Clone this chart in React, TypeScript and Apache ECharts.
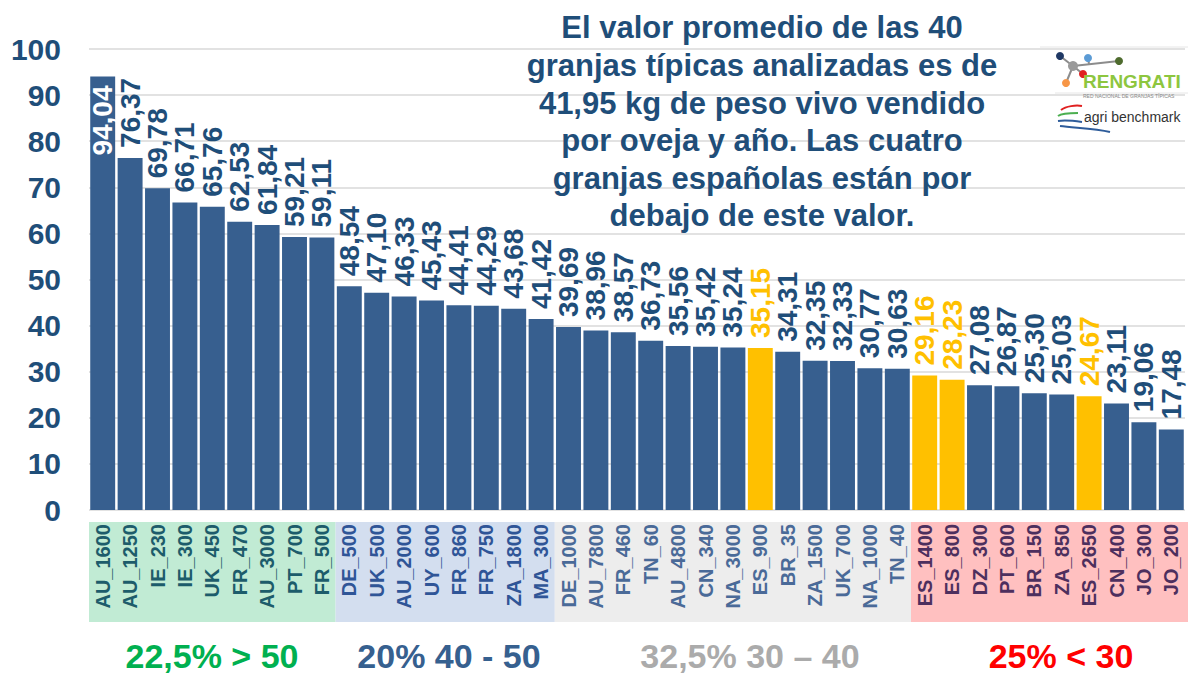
import React, { useEffect, useRef } from "react";
import * as echarts from "echarts";

const categories = ["AU_1600","AU_1250","IE_230","IE_300","UK_450","FR_470","AU_3000","PT_700","FR_500","DE_500","UK_500","AU_2000","UY_600","FR_860","FR_750","ZA_1800","MA_300","DE_1000","AU_7800","FR_460","TN_60","AU_4800","CN_340","NA_3000","ES_900","BR_35","ZA_1500","UK_700","NA_1000","TN_40","ES_1400","ES_800","DZ_300","PT_600","BR_150","ZA_850","ES_2650","CN_400","JO_300","JO_200"];
const values = [94.04,76.37,69.78,66.71,65.76,62.53,61.84,59.21,59.11,48.54,47.10,46.33,45.43,44.41,44.29,43.68,41.42,39.69,38.96,38.57,36.73,35.56,35.42,35.24,35.15,34.31,32.35,32.33,30.77,30.63,29.16,28.23,27.08,26.87,25.30,25.03,24.67,23.11,19.06,17.48];
const yTicks = { min: 0, max: 100, interval: 10 };
const bandSizes = [9, 8, 13, 10];
const bandLabels = ["22,5% > 50", "20% 40 - 50", "32,5% 30 – 40", "25% < 30"];
const bandFill = ["#C1EBD4", "#D3DEEF", "#EDEDED", "#FFC0C0"];
const bandTextColor = ["#1D5C6B", "#2F5597", "#4A6A98", "#4D2F5E"];
const bandLabelColor = ["#00B050", "#36608F", "#ABABAB", "#FF0000"];
const bandLabelX = [212, 449, 750, 1061];
const titleLines = [
  "El valor promedio de las 40",
  "granjas típicas analizadas es de",
  "41,95 kg de peso vivo vendido",
  "por oveja y año. Las cuatro",
  "granjas españolas están por",
  "debajo de este valor.",
];

const FONT = "'Liberation Sans', Arial, sans-serif";
const DARK = "#1F4E79";
const BAR = "#375F8F";
const HIGHLIGHT = "#FFC000";
const W = 1188;

const fmt = (v: number) => v.toFixed(2).replace(".", ",");

function bandOf(i: number) {
  let acc = 0;
  for (let b = 0; b < bandSizes.length; b++) {
    acc += bandSizes[b];
    if (i < acc) return b;
  }
  return bandSizes.length - 1;
}

export default function App() {
  const ref = useRef<HTMLDivElement>(null);
  useEffect(() => {
    document.body.style.margin = "0";
    const chart = echarts.init(ref.current!, null, { renderer: "svg" });
    const data = values.map((v, i) => {
      const isES = categories[i].startsWith("ES_");
      const item: any = {
        value: v,
        itemStyle: { color: isES ? HIGHLIGHT : BAR },
        label: { color: isES ? HIGHLIGHT : DARK },
      };
      if (i === 0) {
        item.label = {
          position: "insideTop",
          align: "right",
          distance: 9,
          color: "#FFFFFF",
        };
      }
      return item;
    });
    const option: any = {
      animation: false,
      textStyle: { fontFamily: FONT },
      grid: { left: 89, right: 3, top: 49, bottom: 165, containLabel: false },
      xAxis: {
        type: "category",
        data: categories,
        axisLine: { show: false },
        axisTick: { show: false },
        axisLabel: {
          rotate: 90,
          interval: 0,
          margin: 14,
          fontSize: 20,
          fontWeight: "bold",
          fontFamily: FONT,
          color: (_v: any, idx: number) => bandTextColor[bandOf(idx)],
        },
      },
      yAxis: {
        type: "value",
        min: yTicks.min,
        max: yTicks.max,
        interval: yTicks.interval,
        axisLine: { show: false },
        axisTick: { show: false },
        axisLabel: {
          fontSize: 30,
          fontWeight: "bold",
          color: DARK,
          margin: 28,
          fontFamily: FONT,
        },
        splitLine: { lineStyle: { color: "#D9D9D9", width: 1.5 } },
      },
      series: [
        {
          type: "bar",
          data,
          barCategoryGap: "9%",
          label: {
            show: true,
            position: "top",
            rotate: 90,
            align: "left",
            verticalAlign: "middle",
            distance: 10,
            fontSize: 28,
            fontWeight: "bold",
            fontFamily: FONT,
            formatter: (p: any) => fmt(p.value),
          },
        },
      ],
    };
    chart.setOption(option);

    const c0 = chart.convertToPixel({ xAxisIndex: 0 }, 0) as number;
    const c1 = chart.convertToPixel({ xAxisIndex: 0 }, 1) as number;
    const bw = c1 - c0;
    const graphics: any[] = [];
    let start = 0;
    bandSizes.forEach((n, b) => {
      const left = c0 + (start - 0.5) * bw;
      const width = b === bandSizes.length - 1 ? W - left : n * bw;
      graphics.push({
        type: "rect",
        z: -1,
        shape: { x: left, y: 522, width, height: 100 },
        style: { fill: bandFill[b] },
        silent: true,
      });
      graphics.push({
        type: "text",
        style: {
          text: bandLabels[b],
          x: bandLabelX[b],
          y: 656,
          align: "center",
          verticalAlign: "middle",
          font: `bold 34px ${FONT}`,
          fill: bandLabelColor[b],
        },
      });
      start += n;
    });
    graphics.push({
      type: "text",
      style: {
        text: titleLines.join("\n"),
        x: 762,
        y: 9,
        align: "center",
        verticalAlign: "top",
        lineHeight: 37.6,
        font: `bold 31px ${FONT}`,
        fill: DARK,
      },
    });
    // logo
    const hub = [1073, 66];
    const nodes = [
      { p: [1060, 56], r: 4, c: "#1F3864" },
      { p: [1088, 58], r: 4, c: "#5B9BD5" },
      { p: [1119, 61], r: 4, c: "#4E6B2E" },
      { p: [1083, 74], r: 4, c: "#E02020" },
      { p: [1066, 83], r: 4, c: "#F79646" },
    ];
    graphics.push({ type: "line", shape: { x1: 1040, y1: 47, x2: 1188, y2: 47 }, style: { stroke: "#E6E6E6", lineWidth: 1 } });
    graphics.push({ type: "line", shape: { x1: 1055, y1: 93, x2: 1188, y2: 93 }, style: { stroke: "#E6E6E6", lineWidth: 1 } });
    [nodes[0], nodes[2], nodes[3], nodes[4]].forEach((n) => {
      graphics.push({ type: "line", shape: { x1: hub[0], y1: hub[1], x2: n.p[0], y2: n.p[1] }, style: { stroke: "#8C8C8C", lineWidth: 2 } });
    });
    graphics.push({ type: "line", shape: { x1: 1088, y1: 58, x2: 1089, y2: 64 }, style: { stroke: "#8C8C8C", lineWidth: 2 } });
    graphics.push({ type: "circle", shape: { cx: hub[0], cy: hub[1], r: 5 }, style: { fill: "#9A9A9A" } });
    nodes.forEach((n) => {
      graphics.push({ type: "circle", shape: { cx: n.p[0], cy: n.p[1], r: n.r }, style: { fill: n.c } });
    });
    graphics.push({
      type: "text",
      style: { text: "RENGRATI", x: 1083, y: 81, verticalAlign: "middle", font: `bold 19px ${FONT}`, fill: "#8DC63F" },
    });
    graphics.push({
      type: "text",
      style: { text: "RED NACIONAL DE GRANJAS TÍPICAS", x: 1083, y: 96, verticalAlign: "middle", font: `5px ${FONT}`, fill: "#888888" },
    });
    graphics.push({
      type: "text",
      style: { text: "agri benchmark", x: 1084, y: 117, verticalAlign: "middle", font: `14px ${FONT}`, fill: "#333333" },
    });
    graphics.push({ type: "bezierCurve", shape: { x1: 1061, y1: 110, x2: 1082, y2: 106, cpx1: 1066, cpy1: 106, cpx2: 1076, cpy2: 105 }, style: { stroke: "#E02020", lineWidth: 2, fill: "none" } });
    graphics.push({ type: "bezierCurve", shape: { x1: 1058, y1: 116, x2: 1078, y2: 113, cpx1: 1062, cpy1: 113, cpx2: 1072, cpy2: 113 }, style: { stroke: "#4CAF50", lineWidth: 2, fill: "none" } });
    graphics.push({ type: "bezierCurve", shape: { x1: 1058, y1: 121, x2: 1082, y2: 122, cpx1: 1064, cpy1: 120, cpx2: 1075, cpy2: 121 }, style: { stroke: "#2E5C9A", lineWidth: 2, fill: "none" } });
    graphics.push({ type: "bezierCurve", shape: { x1: 1060, y1: 126, x2: 1110, y2: 132, cpx1: 1075, cpy1: 128, cpx2: 1095, cpy2: 128 }, style: { stroke: "#2E5C9A", lineWidth: 2, fill: "none" } });
    chart.setOption({ graphic: graphics });
    return () => chart.dispose();
  }, []);
  return (
    <div
      ref={ref}
      style={{ width: W, height: 675, position: "absolute", left: 0, top: 0, background: "#fff" }}
    />
  );
}
